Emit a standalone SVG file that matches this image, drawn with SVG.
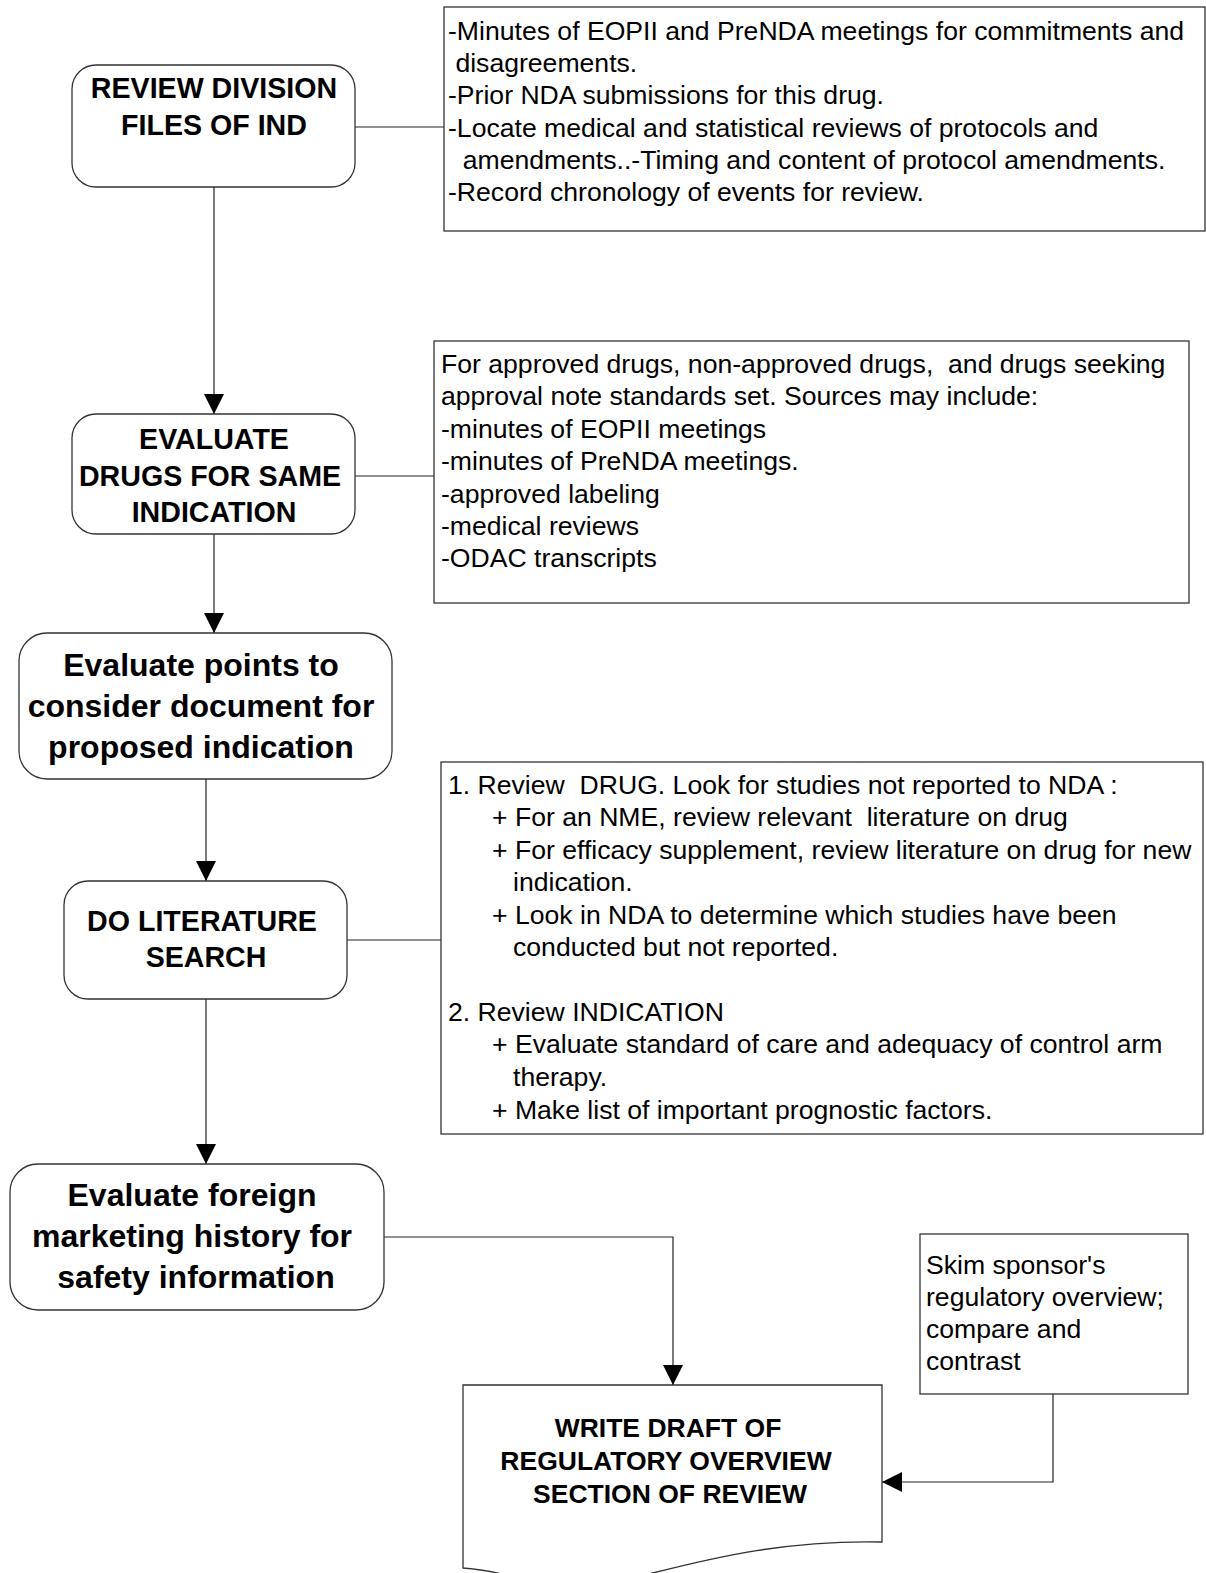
<svg xmlns="http://www.w3.org/2000/svg" width="1206" height="1573" viewBox="0 0 1206 1573">
  <defs>
    <style>
      .step { fill: #fff; stroke: #333; stroke-width: 1.3; }
      .note { fill: #fff; stroke: #333; stroke-width: 1.3; }
      .wire { fill: none; stroke: #222; stroke-width: 1.2; }
      .t { font-family: "Liberation Sans", Arial, sans-serif; fill: #000; white-space: pre; }
      .n { font-size: 26.6px; }
      .b28 { font-size: 28.6px; font-weight: bold; text-anchor: middle; }
      .b32 { font-size: 32px; font-weight: bold; text-anchor: middle; }
      .b26 { font-size: 26.5px; font-weight: bold; text-anchor: middle; }
    </style>
    <marker id="arrow" markerUnits="userSpaceOnUse" markerWidth="20" markerHeight="20" refX="20" refY="10" orient="auto">
      <path d="M0,0 L20,10 L0,20 Z" fill="#000"/>
    </marker>
  </defs>

  <!-- connectors -->
  <g id="connectors">
    <line class="wire" x1="355" y1="127" x2="444" y2="127"/>
    <line class="wire" x1="214" y1="187" x2="214" y2="414" marker-end="url(#arrow)"/>
    <line class="wire" x1="355" y1="476" x2="434" y2="476"/>
    <line class="wire" x1="214" y1="534" x2="214" y2="633" marker-end="url(#arrow)"/>
    <line class="wire" x1="206" y1="779" x2="206" y2="881" marker-end="url(#arrow)"/>
    <line class="wire" x1="347" y1="940" x2="441" y2="940"/>
    <line class="wire" x1="206" y1="999" x2="206" y2="1164" marker-end="url(#arrow)"/>
    <polyline class="wire" points="384,1237 673,1237 673,1385" marker-end="url(#arrow)"/>
    <polyline class="wire" points="1053,1394 1053,1482 882,1482" marker-end="url(#arrow)"/>
  </g>

  <!-- step: review division files -->
  <g id="review-division-files">
    <rect class="step" x="72" y="65" width="283" height="122" rx="24"/>
    <text class="t b28" x="214" y="98">REVIEW DIVISION</text>
    <text class="t b28" x="214" y="135">FILES OF IND</text>
  </g>

  <g id="note-division-files">
    <rect class="note" x="444" y="7" width="761" height="224"/>
    <text class="t n" x="448" y="40">-Minutes of EOPII and PreNDA meetings for commitments and</text>
    <text class="t n" x="448" y="72"> disagreements.</text>
    <text class="t n" x="448" y="104">-Prior NDA submissions for this drug.</text>
    <text class="t n" x="448" y="137">-Locate medical and statistical reviews of protocols and</text>
    <text class="t n" x="448" y="169">  amendments..-Timing and content of protocol amendments.</text>
    <text class="t n" x="448" y="201">-Record chronology of events for review.</text>
  </g>

  <!-- step: evaluate drugs for same indication -->
  <g id="evaluate-drugs">
    <rect class="step" x="72" y="414" width="283" height="120" rx="24"/>
    <text class="t b28" x="214" y="449">EVALUATE</text>
    <text class="t b28" x="210" y="486">DRUGS FOR SAME</text>
    <text class="t b28" x="214" y="522">INDICATION</text>
  </g>

  <g id="note-drugs">
    <rect class="note" x="434" y="341" width="755" height="262"/>
    <text class="t n" x="441" y="373">For approved drugs, non-approved drugs,  and drugs seeking</text>
    <text class="t n" x="441" y="405">approval note standards set. Sources may include:</text>
    <text class="t n" x="441" y="438">-minutes of EOPII meetings</text>
    <text class="t n" x="441" y="470">-minutes of PreNDA meetings.</text>
    <text class="t n" x="441" y="503">-approved labeling</text>
    <text class="t n" x="441" y="535">-medical reviews</text>
    <text class="t n" x="441" y="567">-ODAC transcripts</text>
  </g>

  <!-- step: points to consider -->
  <g id="points-to-consider">
    <rect class="step" x="19" y="633" width="373" height="146" rx="28"/>
    <text class="t b32" x="201" y="676">Evaluate points to</text>
    <text class="t b32" x="201" y="717">consider document for</text>
    <text class="t b32" x="201" y="758">proposed indication</text>
  </g>

  <!-- step: literature search -->
  <g id="literature-search">
    <rect class="step" x="64" y="881" width="283" height="118" rx="24"/>
    <text class="t b28" x="202" y="931">DO LITERATURE</text>
    <text class="t b28" x="206" y="967">SEARCH</text>
  </g>

  <g id="note-literature">
    <rect class="note" x="441" y="762" width="762" height="372"/>
    <text class="t n" x="448" y="794">1. Review  DRUG. Look for studies not reported to NDA :</text>
    <text class="t n" x="492" y="826">+ For an NME, review relevant  literature on drug</text>
    <text class="t n" x="492" y="859">+ For efficacy supplement, review literature on drug for new</text>
    <text class="t n" x="513" y="891">indication.</text>
    <text class="t n" x="492" y="924">+ Look in NDA to determine which studies have been</text>
    <text class="t n" x="513" y="956">conducted but not reported.</text>
    <text class="t n" x="448" y="1021">2. Review INDICATION</text>
    <text class="t n" x="492" y="1053">+ Evaluate standard of care and adequacy of control arm</text>
    <text class="t n" x="513" y="1086">therapy.</text>
    <text class="t n" x="492" y="1119">+ Make list of important prognostic factors.</text>
  </g>

  <!-- step: foreign marketing history -->
  <g id="foreign-marketing">
    <rect class="step" x="10" y="1164" width="374" height="146" rx="28"/>
    <text class="t b32" x="192" y="1206">Evaluate foreign</text>
    <text class="t b32" x="192" y="1247">marketing history for</text>
    <text class="t b32" x="196" y="1288">safety information</text>
  </g>

  <!-- note: sponsor overview -->
  <g id="note-sponsor">
    <rect class="note" x="920" y="1234" width="268" height="160"/>
    <text class="t n" x="926" y="1274">Skim sponsor's</text>
    <text class="t n" x="926" y="1306">regulatory overview;</text>
    <text class="t n" x="926" y="1338">compare and</text>
    <text class="t n" x="926" y="1370">contrast</text>
  </g>

  <!-- document: write draft -->
  <g id="write-draft">
    <path class="step" d="M463,1385 H882 V1542 C790,1540 720,1556 653,1573 C610,1584 560,1590 497,1573 C485,1570 475,1569 463,1568 Z"/>
    <text class="t b26" x="668" y="1437">WRITE DRAFT OF</text>
    <text class="t b26" x="666" y="1470">REGULATORY OVERVIEW</text>
    <text class="t b26" x="670" y="1503">SECTION OF REVIEW</text>
  </g>
</svg>
